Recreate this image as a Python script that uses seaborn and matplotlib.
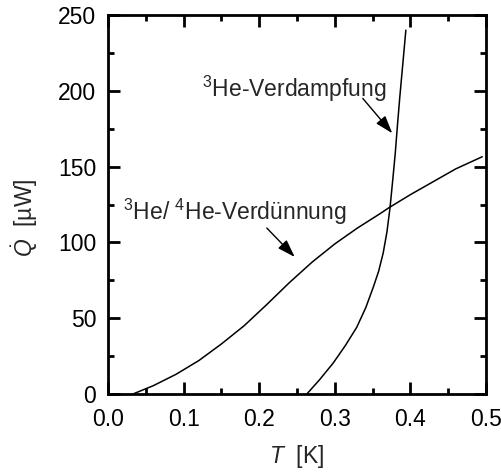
import matplotlib
matplotlib.use("Agg")
import matplotlib.pyplot as plt
import seaborn as sns
import pandas as pd
from matplotlib.ticker import MultipleLocator

# Cooling power of a 3He/4He dilution stage vs. a 3He evaporation stage
dilution_T = [0.033, 0.06, 0.09, 0.12, 0.15, 0.18, 0.21, 0.24, 0.27, 0.30,
              0.33, 0.36, 0.372, 0.40, 0.43, 0.46, 0.495]
dilution_Q = [0.0, 5.5, 13.0, 22.0, 33.0, 45.0, 59.0, 73.5, 87.0, 99.0,
              109.5, 119.0, 123.0, 131.5, 140.0, 148.5, 156.5]

evaporation_T = [0.263, 0.28, 0.298, 0.314, 0.329, 0.341, 0.351, 0.358,
                 0.364, 0.369, 0.373, 0.377, 0.380, 0.383, 0.386, 0.390,
                 0.394]
evaporation_Q = [0.0, 9.5, 20.5, 32.0, 44.0, 57.0, 70.6, 81.0, 93.0, 107.0,
                 122.7, 143.0, 159.0, 178.0, 196.0, 218.0, 240.0]

x_ticks = [0.0, 0.1, 0.2, 0.3, 0.4, 0.5]
y_ticks = [0, 50, 100, 150, 200, 250]

sns.set_theme(style="ticks")
plt.rcParams["font.family"] = ["Liberation Sans", "DejaVu Sans"]
plt.rcParams["mathtext.fontset"] = "custom"
plt.rcParams["mathtext.rm"] = "Liberation Sans"
plt.rcParams["mathtext.it"] = "Liberation Sans:italic"
plt.rcParams["mathtext.bf"] = "Liberation Sans:bold"

FS = 16.5

fig = plt.figure(figsize=(5.02, 4.75), dpi=100)
ax = fig.add_axes([108 / 502, 1 - 394 / 475, 378 / 502, 379 / 475])

dil = pd.DataFrame({"T": dilution_T, "Q": dilution_Q})
evp = pd.DataFrame({"T": evaporation_T, "Q": evaporation_Q})
sns.lineplot(data=dil, x="T", y="Q", ax=ax, color="black", lw=1.1, sort=False)
sns.lineplot(data=evp, x="T", y="Q", ax=ax, color="black", lw=1.1, sort=False)

ax.set_xlim(0, 0.5)
ax.set_ylim(0, 250)
ax.set_xticks(x_ticks)
ax.set_xticklabels([f"{v:.1f}" for v in x_ticks])
ax.set_yticks(y_ticks)
ax.set_yticklabels([str(v) for v in y_ticks])
ax.xaxis.set_minor_locator(MultipleLocator(0.05))
ax.yaxis.set_minor_locator(MultipleLocator(25))

for s in ax.spines.values():
    s.set_visible(True)
    s.set_linewidth(2.0)
    s.set_color("black")

ax.tick_params(which="both", direction="in", top=True, right=True,
               colors="black", labelsize=FS, width=2.0)
ax.tick_params(which="major", length=8.5)
ax.tick_params(which="minor", length=4.5)
ax.tick_params(axis="x", which="major", pad=10)
ax.tick_params(axis="y", which="major", pad=8.5)

ax.set_xlabel(r"$\mathit{T}$  [K]", fontsize=FS, labelpad=9)
ax.set_ylabel(r"$\dot{\mathit{Q}}$  [µW]", fontsize=FS)
ax.yaxis.set_label_coords(-0.18, 0.464)

arrow = dict(arrowstyle="-|>,head_length=0.9,head_width=0.3",
             color="black", lw=1.0, shrinkA=0, shrinkB=0)

ax.text(0.124, 196, r"$^{3}$He-Verdampfung", fontsize=FS, ha="left",
        va="baseline")
ax.annotate("", xy=(0.376, 172), xytext=(0.337, 195), arrowprops=arrow)

ax.text(0.020, 114.8, r"$^{3}$He/ $^{4}$He-Verdünnung", fontsize=FS,
        ha="left", va="baseline")
ax.annotate("", xy=(0.247, 90.4), xytext=(0.210, 109.5), arrowprops=arrow)

fig.savefig("out.png", dpi=100)
